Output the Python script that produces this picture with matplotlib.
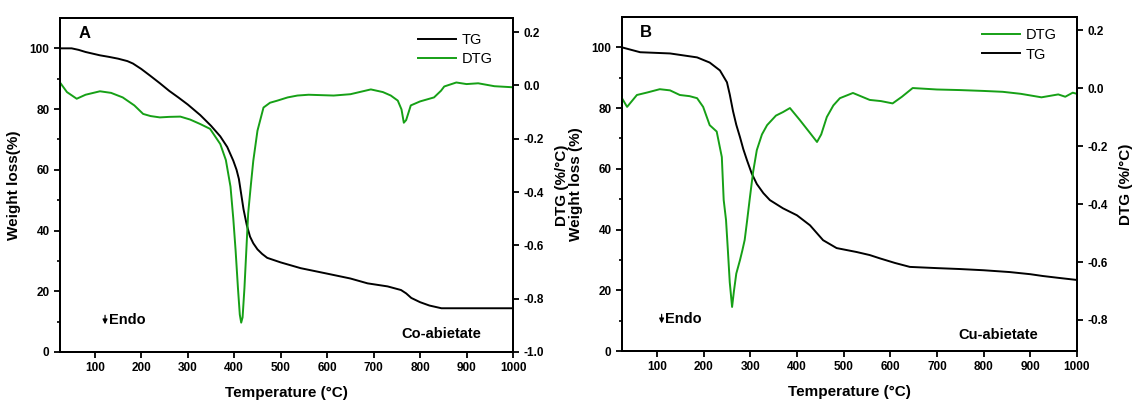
import matplotlib
matplotlib.use("Agg")
import matplotlib.pyplot as plt

plt.rcParams['font.family'] = ['Liberation Sans', 'DejaVu Sans']

# ---------------- Panel A: Co-abietate ----------------
tg_a_T = [25, 50, 65, 80, 111, 130, 150, 170, 182, 200, 219, 240, 260, 280, 300, 327, 350, 370, 385,
          398, 405, 410, 415, 420, 427, 434, 441, 450, 460, 471, 500, 543, 600, 650, 687, 730, 759,
          770, 781, 800, 820, 846, 870, 900, 950, 1000]
tg_a_w = [100, 100, 99.5, 98.8, 97.7, 97.2, 96.6, 95.8, 95.0, 93.2, 91.0, 88.5, 86.0, 83.8, 81.5, 78.0,
          74.5, 71.0, 67.5, 63.0, 60.0, 57.0, 52.0, 47.0, 41.8, 38.0, 35.8, 33.8, 32.3, 31.0, 29.5, 27.6,
          25.8, 24.2, 22.6, 21.6, 20.4, 19.3, 17.8, 16.4, 15.3, 14.4, 14.4, 14.4, 14.4, 14.4]

dtg_a_T = [25, 40, 61, 80, 111, 135, 160, 185, 204, 220, 240, 260, 284, 305, 327, 348, 370, 382,
           392, 398, 403, 408, 412, 415, 418, 422, 426, 430, 436, 441, 450, 463, 477, 493, 515, 536, 560,
           614, 650, 694, 720, 737, 752, 760, 765, 770, 780, 800, 830, 845, 852, 878, 900, 925, 960, 1000]
dtg_a_v = [0.011, -0.025, -0.050, -0.035, -0.022, -0.028, -0.045, -0.075, -0.107, -0.115, -0.120, -0.118,
           -0.117, -0.128, -0.145, -0.163, -0.220, -0.280, -0.380, -0.500, -0.620, -0.760, -0.860, -0.890,
           -0.870, -0.760, -0.620, -0.480, -0.370, -0.283, -0.170, -0.083, -0.065, -0.057, -0.045, -0.038,
           -0.035, -0.038, -0.033, -0.015, -0.025, -0.038, -0.057, -0.090, -0.140, -0.130, -0.075, -0.060,
           -0.045, -0.020, -0.004, 0.011, 0.005, 0.008, -0.003, -0.007]

# ---------------- Panel B: Cu-abietate ----------------
tg_b_T = [25, 64, 128, 186, 213, 235, 250, 256, 263, 270, 278, 285, 293, 303, 314, 328, 342, 370, 400,
          428, 456, 485, 528, 556, 578, 610, 642, 700, 749, 800, 856, 900, 927, 960, 1000]
tg_b_w = [100, 98.4, 98.0, 96.7, 95.0, 92.4, 88.5, 84.5, 79.0, 74.5, 70.4, 66.5, 62.8, 58.5, 55.0, 52.0,
          49.7, 47.0, 44.7, 41.4, 36.5, 33.9, 32.6, 31.6, 30.5, 29.0, 27.7, 27.3, 27.0, 26.6, 26.0, 25.3,
          24.7, 24.1, 23.4]

dtg_b_T = [25, 36, 57, 80, 106, 128, 149, 170, 186, 199, 213, 228, 239, 243, 248, 252, 256, 261, 265,
           270, 278, 283, 288, 293, 299, 306, 314, 325, 336, 355, 370, 385, 406, 428, 443, 452, 464, 478,
           492, 520, 556, 580, 605, 625, 648, 700, 749, 800, 841, 880, 924, 960, 975, 991, 1000]
dtg_b_v = [-0.035, -0.065, -0.024, -0.015, -0.004, -0.008, -0.024, -0.028, -0.035, -0.065, -0.128, -0.150,
           -0.238, -0.386, -0.455, -0.560, -0.670, -0.755, -0.700, -0.640, -0.593, -0.560, -0.524, -0.460,
           -0.380, -0.290, -0.214, -0.160, -0.128, -0.095, -0.083, -0.069, -0.110, -0.155, -0.186, -0.160,
           -0.100, -0.060, -0.035, -0.017, -0.041, -0.045, -0.053, -0.030, 0.000, -0.005, -0.007, -0.010,
           -0.013, -0.020, -0.032, -0.022, -0.030, -0.016, -0.020]

x_ticks = [100, 200, 300, 400, 500, 600, 700, 800, 900, 1000]
w_ticks = [0, 20, 40, 60, 80, 100]
dtg_a_ticks = [0.2, 0.0, -0.2, -0.4, -0.6, -0.8, -1.0]
dtg_b_ticks = [0.2, 0.0, -0.2, -0.4, -0.6, -0.8]

GREEN = '#16a016'
fig = plt.figure(figsize=(11.36, 4.03), dpi=100)

panels = [
    dict(rect=[0.0528, 0.1266, 0.3988, 0.8288], tg=(tg_a_T, tg_a_w), dtg=(dtg_a_T, dtg_a_v),
         dylim=(-1.0, 0.253), dticks=dtg_a_ticks, letter='A', name='Co-abietate', ylabel='Weight loss(%)',
         order=['TG', 'DTG'], leg_anchor=(0.985, 0.995), name_x=932, name_y=5.9, endo_x=122),
    dict(rect=[0.5475, 0.1290, 0.4005, 0.8288], tg=(tg_b_T, tg_b_w), dtg=(dtg_b_T, dtg_b_v),
         dylim=(-0.907, 0.245), dticks=dtg_b_ticks, letter='B', name='Cu-abietate', ylabel='Weight loss (%)',
         order=['DTG', 'TG'], leg_anchor=(0.985, 1.005), name_x=916, name_y=5.3, endo_x=110),
]

for p in panels:
    ax = fig.add_axes(p['rect'])
    ax2 = ax.twinx()
    l_tg, = ax.plot(p['tg'][0], p['tg'][1], color='black', lw=1.4, label='TG')
    l_dtg, = ax2.plot(p['dtg'][0], p['dtg'][1], color=GREEN, lw=1.4, label='DTG')
    ax.set_xlim(25, 1000)
    ax.set_ylim(0, 110)
    ax2.set_ylim(*p['dylim'])
    ax.set_xticks(x_ticks)
    ax.set_yticks(w_ticks)
    ax.set_yticks([10, 30, 50, 70, 90], minor=True)
    ax2.set_yticks(p['dticks'])
    ax2.set_yticklabels(['%.1f' % v for v in p['dticks']])
    for a in (ax, ax2):
        for s in a.spines.values():
            s.set_linewidth(1.4)
        a.tick_params(which='major', direction='out', length=4, width=1.3, labelsize=8.5)
        a.tick_params(which='minor', direction='out', length=2.5, width=1.2)
        for lab in a.get_xticklabels() + a.get_yticklabels():
            lab.set_fontweight('bold')
    ax.set_xlabel('Temperature (°C)', fontsize=11, fontweight='bold', labelpad=8)
    ax.set_ylabel(p['ylabel'], fontsize=11, fontweight='bold', labelpad=6)
    ax2.set_ylabel('DTG (%/°C)', fontsize=11, fontweight='bold', labelpad=8)
    ax.text(0.04, 0.955, p['letter'], transform=ax.transAxes, fontsize=12, fontweight='bold',
            ha='left', va='center')
    ax.text(p['name_x'], p['name_y'], p['name'], fontsize=10.5, fontweight='bold', ha='right', va='center')
    ax.annotate('', xy=(p['endo_x'], 8.2), xytext=(p['endo_x'], 13),
                arrowprops=dict(arrowstyle='-|>', color='black', lw=0.9, mutation_scale=7))
    ax.text(p['endo_x'] + 8, 10.5, 'Endo', fontsize=10.5, fontweight='bold', ha='left', va='center')
    handles = {'TG': l_tg, 'DTG': l_dtg}
    ax.legend([handles[k] for k in p['order']], p['order'], loc='upper right',
              bbox_to_anchor=p['leg_anchor'], frameon=False, fontsize=10.5, handlelength=2.6,
              handletextpad=0.4, labelspacing=0.35)

fig.savefig('out.png', dpi=100)
